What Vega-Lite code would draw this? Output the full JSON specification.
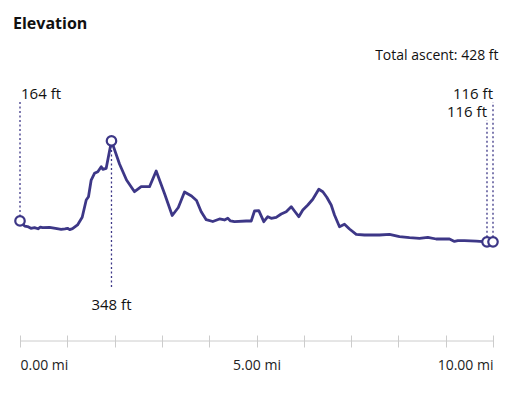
{
  "$schema": "https://vega.github.io/schema/vega-lite/v6.json",
  "autosize": "none",
  "width": 473,
  "height": 301,
  "padding": {"left": 20, "top": 40, "right": 22, "bottom": 55},
  "title": {"text": "Elevation", "anchor": "start", "frame": "group", "dx": -7, "dy": 16, "offset": 11.5, "baseline": "alphabetic", "font": "Open Sans", "fontSize": 16, "fontWeight": "bold", "color": "#111111"},
  "config": {
    "view": {"stroke": null},
    "font": "Open Sans",
    "axisX": {
      "grid": false, "domain": false, "tickCount": 10,
      "labelExpr": "datum.value % 5 === 0 ? format(datum.value, '.2f') + ' mi' : ''",
      "labelFlush": true, "labelOverlap": false,
      "tickSize": 12, "offset": -6, "tickColor": "#cccccc", "tickWidth": 1,
      "labelPadding": 11, "labelFontSize": 14, "labelColor": "#222222", "labelFont": "Open Sans"
    }
  },
  "datasets": {
    "profile": [
      {"mi": 0, "ft": 164}, {"mi": 0.1, "ft": 152}, {"mi": 0.159, "ft": 151}, {"mi": 0.23, "ft": 147},
      {"mi": 0.307, "ft": 148.5}, {"mi": 0.38, "ft": 146}, {"mi": 0.43, "ft": 150}, {"mi": 0.476, "ft": 148.5},
      {"mi": 0.624, "ft": 149.4}, {"mi": 0.75, "ft": 147}, {"mi": 0.871, "ft": 144.8}, {"mi": 0.95, "ft": 146},
      {"mi": 1.004, "ft": 147.1}, {"mi": 1.05, "ft": 144}, {"mi": 1.11, "ft": 146.2}, {"mi": 1.216, "ft": 154.7},
      {"mi": 1.315, "ft": 172.4}, {"mi": 1.4, "ft": 212.2}, {"mi": 1.448, "ft": 219.7}, {"mi": 1.505, "ft": 258.1},
      {"mi": 1.575, "ft": 273.5}, {"mi": 1.645, "ft": 277.2}, {"mi": 1.717, "ft": 288.7}, {"mi": 1.751, "ft": 282.7},
      {"mi": 1.822, "ft": 285}, {"mi": 1.934, "ft": 348}, {"mi": 2.104, "ft": 294.9}, {"mi": 2.252, "ft": 258.1},
      {"mi": 2.421, "ft": 231.2}, {"mi": 2.562, "ft": 242.7}, {"mi": 2.738, "ft": 242.7}, {"mi": 2.879, "ft": 278.8},
      {"mi": 3.055, "ft": 227.1}, {"mi": 3.218, "ft": 176.5}, {"mi": 3.347, "ft": 194.9}, {"mi": 3.478, "ft": 230.6},
      {"mi": 3.626, "ft": 221.4}, {"mi": 3.732, "ft": 211}, {"mi": 3.831, "ft": 185.3}, {"mi": 3.937, "ft": 166.9},
      {"mi": 4.076, "ft": 162.7}, {"mi": 4.218, "ft": 168.5}, {"mi": 4.323, "ft": 166.2}, {"mi": 4.393, "ft": 170.1},
      {"mi": 4.45, "ft": 164}, {"mi": 4.535, "ft": 162.3}, {"mi": 4.782, "ft": 163.9}, {"mi": 4.888, "ft": 163.9},
      {"mi": 4.958, "ft": 186.9}, {"mi": 5.049, "ft": 187.6}, {"mi": 5.154, "ft": 162.3}, {"mi": 5.239, "ft": 173.8},
      {"mi": 5.311, "ft": 170.1}, {"mi": 5.416, "ft": 172.4}, {"mi": 5.522, "ft": 180}, {"mi": 5.628, "ft": 185.3},
      {"mi": 5.734, "ft": 196.8}, {"mi": 5.803, "ft": 186.9}, {"mi": 5.894, "ft": 173.8}, {"mi": 5.979, "ft": 189.2},
      {"mi": 6.085, "ft": 200.7}, {"mi": 6.19, "ft": 213.8}, {"mi": 6.317, "ft": 236.8}, {"mi": 6.402, "ft": 231.2},
      {"mi": 6.486, "ft": 218.4}, {"mi": 6.579, "ft": 200.7}, {"mi": 6.649, "ft": 177.7}, {"mi": 6.755, "ft": 150.8},
      {"mi": 6.86, "ft": 156.3}, {"mi": 6.966, "ft": 145.5}, {"mi": 7.108, "ft": 133.3}, {"mi": 7.283, "ft": 131.7},
      {"mi": 7.459, "ft": 131.7}, {"mi": 7.6, "ft": 131.7}, {"mi": 7.812, "ft": 133.3}, {"mi": 8.023, "ft": 127.8},
      {"mi": 8.235, "ft": 125.5}, {"mi": 8.446, "ft": 124.1}, {"mi": 8.622, "ft": 126.4}, {"mi": 8.799, "ft": 122.5},
      {"mi": 9.08, "ft": 122.5}, {"mi": 9.186, "ft": 117}, {"mi": 9.256, "ft": 118.6}, {"mi": 9.397, "ft": 118.6},
      {"mi": 9.645, "ft": 117.5}, {"mi": 9.873, "ft": 116}, {"mi": 10, "ft": 116}
    ],
    "annotations": [
      {"kind": "start", "mi": 0, "ft": 164, "label": "164 ft"},
      {"kind": "max", "mi": 1.934, "ft": 348, "label": "348 ft"},
      {"kind": "min", "mi": 9.873, "ft": 116, "label": "116 ft"},
      {"kind": "end", "mi": 10, "ft": 116, "label": "116 ft"}
    ],
    "summary": [{"distance": 10, "label": "Total ascent: 428 ft"}]
  },
  "layer": [
    {
      "data": {"name": "profile"},
      "mark": {"type": "line", "color": "#3d3787", "strokeWidth": 2.8, "strokeJoin": "round", "strokeCap": "round"},
      "encoding": {
        "x": {"field": "mi", "type": "quantitative", "title": null, "scale": {"domain": [0, 10], "nice": false, "zero": false}},
        "y": {"field": "ft", "type": "quantitative", "scale": {"domain": [-112, 580], "nice": false, "zero": false}, "axis": null}
      }
    },
    {
      "data": {"name": "profile"},
      "mark": {"type": "rule", "color": "#cccccc", "strokeWidth": 1},
      "encoding": {
        "x": {"aggregate": "min", "field": "mi", "type": "quantitative", "title": null},
        "x2": {"aggregate": "max", "field": "mi"},
        "y": {"datum": -112, "type": "quantitative", "axis": null}
      }
    },
    {
      "data": {"name": "annotations"},
      "transform": [{"filter": "datum.kind === 'start' || datum.kind === 'end'"}],
      "mark": {"type": "rule", "color": "#3d3787", "strokeWidth": 1.3, "strokeDash": [2, 2.5]},
      "encoding": {
        "x": {"field": "mi", "type": "quantitative", "title": null},
        "y": {"field": "ft", "type": "quantitative", "axis": null},
        "y2": {"datum": 437.5}
      }
    },
    {
      "data": {"name": "annotations"},
      "transform": [{"filter": "datum.kind === 'min'"}],
      "mark": {"type": "rule", "color": "#3d3787", "strokeWidth": 1.3, "strokeDash": [2, 2.5]},
      "encoding": {
        "x": {"field": "mi", "type": "quantitative", "title": null},
        "y": {"field": "ft", "type": "quantitative", "axis": null},
        "y2": {"datum": 396}
      }
    },
    {
      "data": {"name": "annotations"},
      "transform": [{"filter": "datum.kind === 'max'"}],
      "mark": {"type": "rule", "color": "#3d3787", "strokeWidth": 1.3, "strokeDash": [2, 2.5]},
      "encoding": {
        "x": {"field": "mi", "type": "quantitative", "title": null},
        "y": {"field": "ft", "type": "quantitative", "axis": null},
        "y2": {"datum": 7.5}
      }
    },
    {
      "data": {"name": "annotations"},
      "transform": [{"filter": "datum.kind === 'start'"}],
      "mark": {"type": "text", "align": "left", "dx": 1, "baseline": "alphabetic", "fontSize": 15, "color": "#111111"},
      "encoding": {
        "x": {"field": "mi", "type": "quantitative", "title": null},
        "y": {"datum": 444, "type": "quantitative", "axis": null},
        "text": {"field": "label"}
      }
    },
    {
      "data": {"name": "annotations"},
      "transform": [{"filter": "datum.kind === 'end'"}],
      "mark": {"type": "text", "align": "right", "baseline": "alphabetic", "fontSize": 15, "color": "#111111"},
      "encoding": {
        "x": {"field": "mi", "type": "quantitative", "title": null},
        "y": {"datum": 444, "type": "quantitative", "axis": null},
        "text": {"field": "label"}
      }
    },
    {
      "data": {"name": "annotations"},
      "transform": [{"filter": "datum.kind === 'min'"}],
      "mark": {"type": "text", "align": "right", "baseline": "alphabetic", "fontSize": 15, "color": "#111111"},
      "encoding": {
        "x": {"field": "mi", "type": "quantitative", "title": null},
        "y": {"datum": 403, "type": "quantitative", "axis": null},
        "text": {"field": "label"}
      }
    },
    {
      "data": {"name": "annotations"},
      "transform": [{"filter": "datum.kind === 'max'"}],
      "mark": {"type": "text", "align": "center", "baseline": "alphabetic", "fontSize": 15, "color": "#111111"},
      "encoding": {
        "x": {"field": "mi", "type": "quantitative", "title": null},
        "y": {"datum": -40.7, "type": "quantitative", "axis": null},
        "text": {"field": "label"}
      }
    },
    {
      "data": {"name": "annotations"},
      "mark": {"type": "point", "shape": "circle", "filled": false, "fill": "#ffffff", "fillOpacity": 1, "stroke": "#3d3787", "strokeWidth": 2.2, "size": 90, "opacity": 1},
      "encoding": {
        "x": {"field": "mi", "type": "quantitative", "title": null},
        "y": {"field": "ft", "type": "quantitative", "axis": null}
      }
    },
    {
      "data": {"name": "summary"},
      "mark": {"type": "text", "align": "right", "dx": 5.5, "baseline": "alphabetic", "fontSize": 14, "color": "#111111"},
      "encoding": {
        "x": {"field": "distance", "type": "quantitative", "title": null},
        "y": {"datum": 533, "type": "quantitative", "axis": null},
        "text": {"field": "label"}
      }
    }
  ]
}
